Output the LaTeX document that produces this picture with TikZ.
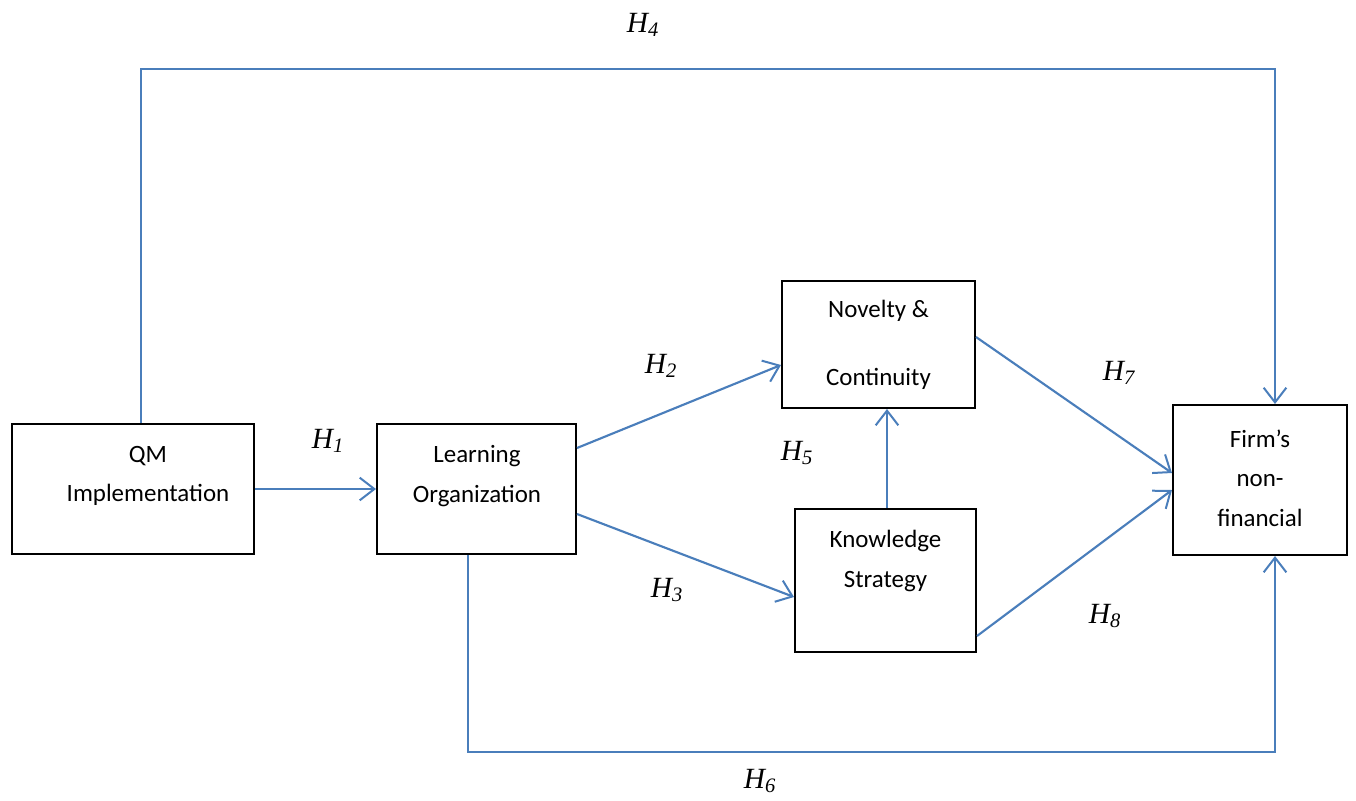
\documentclass[tikz,border=0pt]{standalone}
\usepackage{fontspec}
\setmainfont{Carlito}
\newfontfamily\hfont{Liberation Serif}
\usetikzlibrary{arrows.meta}
\definecolor{linkblue}{HTML}{4A7EBB}
\tikzset{
  box/.style={draw=black, line width=1.5pt, fill=white, inner sep=0pt},
  boxtext/.style={align=center, inner sep=0pt, font=\fontsize{18.7}{29.5}\selectfont},
  link/.style={draw=linkblue, line width=1.6pt, -{Straight Barb[length=11pt, width=17pt, line width=1.5pt]}},
  hyp/.style={font=\hfont\itshape\fontsize{22}{24}\selectfont, inner sep=0pt}
}
\newcommand{\hyplabel}[1]{H\textsubscript{#1}}
\begin{document}
\begin{tikzpicture}[x=0.75pt, y=-0.75pt]
  \useasboundingbox (0,0) rectangle (1356,800);
  % boxes
  \node[box, minimum width=181.5pt, minimum height=97.5pt] (qm) at (133,489) {};
  \node[box, minimum width=149.25pt, minimum height=97.5pt] (lo) at (476.5,489) {};
  \node[box, minimum width=144.75pt, minimum height=95.25pt] (nc) at (878.5,344.5) {};
  \node[box, minimum width=135.75pt, minimum height=107.25pt] (ks) at (885.5,580.5) {};
  \node[box, minimum width=130.5pt, minimum height=112.5pt] (fi) at (1260,480) {};

  % box texts
  \node[boxtext] (qmt) at (148,476) {QM\\Implementation};
  \node[boxtext] (lot) at (477,476) {Learning\\Organization};
  \node[boxtext, font=\fontsize{18.7}{51}\selectfont] (nct) at (878.5,345) {Novelty \&\\Continuity};
  \node[boxtext] (kst) at (885.5,561) {Knowledge\\Strategy};
  \node[boxtext] (fit) at (1260,478) {Firm’s\\non-\\financial};

  % corner points of the long routes
  \coordinate (t1) at (141,69);
  \coordinate (t2) at (1275,69);
  \coordinate (b1) at (468,752);
  \coordinate (b2) at (1275,752);

  % connectors
  \draw[link] (qm.east) -- (lo.west);
  \draw[link] (lo.east |- 0,448) -- (nc.west |- 0,365);
  \draw[link] (lo.east |- 0,514) -- (ks.west |- 0,597);
  \draw[link] (ks.north -| 887,0) -- (nc.south -| 887,0);
  \draw[link] (nc.east |- 0,337) -- (fi.west |- 0,473);
  \draw[link] (ks.east |- 0,636) -- (fi.west |- 0,490);
  \draw[link] (qm.north -| t1) -- (t1) -- (t2) -- (fi.north -| t2);
  \draw[link] (lo.south -| b1) -- (b1) -- (b2) -- (fi.south -| b2);

  % hypothesis labels
  \node[hyp] (h1) at (328,441) {\hyplabel{1}};
  \node[hyp] (h2) at (661,366) {\hyplabel{2}};
  \node[hyp] (h3) at (667,590) {\hyplabel{3}};
  \node[hyp] (h4) at (643,25) {\hyplabel{4}};
  \node[hyp] (h5) at (797,453) {\hyplabel{5}};
  \node[hyp] (h6) at (760,781) {\hyplabel{6}};
  \node[hyp] (h7) at (1119,373) {\hyplabel{7}};
  \node[hyp] (h8) at (1105,616) {\hyplabel{8}};
\end{tikzpicture}
\end{document}
